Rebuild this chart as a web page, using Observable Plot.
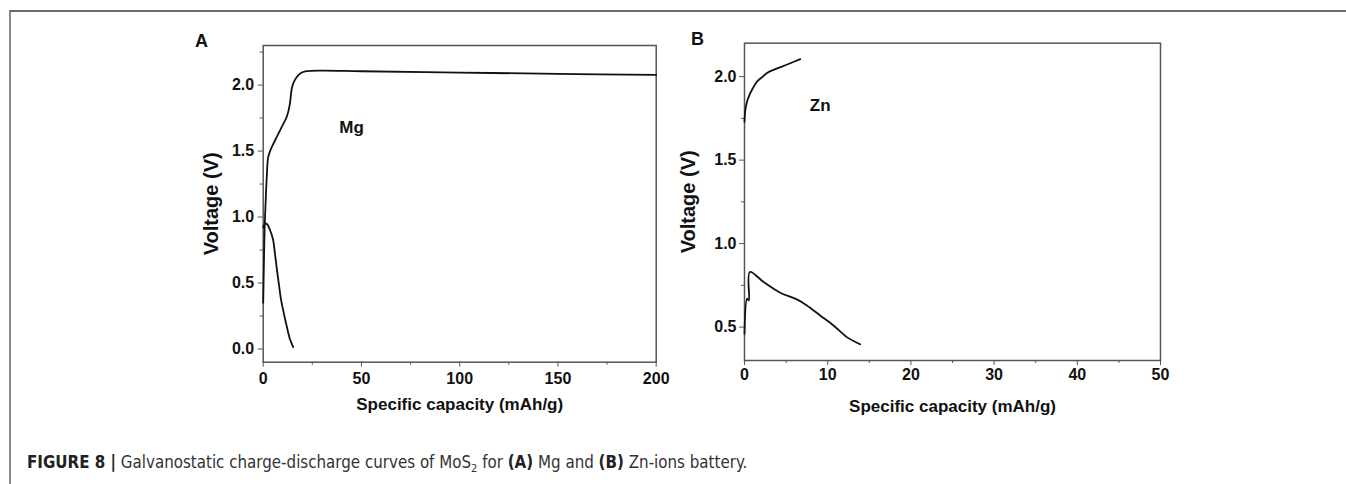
<!DOCTYPE html>
<html>
<head>
<meta charset="utf-8">
<script src="https://cdn.jsdelivr.net/npm/d3@7"></script>
<script src="https://cdn.jsdelivr.net/npm/@observablehq/plot@0.6"></script>
<style>
  html, body { margin: 0; padding: 0; background: #fff; }
  #root { position: relative; width: 1346px; height: 484px; overflow: hidden; font-family: "Liberation Sans", Arial, sans-serif; background: #fff; }
  #border { position: absolute; left: 9px; top: 10px; width: 1340px; height: 480px; border-top: 2px solid #6a6a6a; border-left: 2px solid #8a8a8a; box-sizing: border-box; }
  .panel { position: absolute; top: 0; }
  .panel svg { background: transparent !important; overflow: visible; }
  .panel svg text { font-size: 16px; font-weight: bold; }
  .panel svg g[aria-label="x-axis label"] text { font-size: 17px; }
  .panel svg g[aria-label="y-axis label"] text { font-size: 20px; }
  .panel svg g[aria-label="text"] text { font-size: 17px; }
  .plabel { position: absolute; font-weight: bold; font-size: 18px; color: #111; }
  #caption { position: absolute; left: 27px; top: 452px; font-family: "Liberation Sans Narrow", "DejaVu Sans Condensed", sans-serif; font-size: 16.8px; color: #333; white-space: nowrap; }
  #caption b { color: #222; }
</style>
</head>
<body>
<div id="root">
  <div id="border"></div>
  <div id="panelA" class="panel" style="left:180px"></div>
  <div id="panelB" class="panel" style="left:670px"></div>
  <div class="plabel" style="left:195px; top:31px">A</div>
  <div class="plabel" style="left:691px; top:29px">B</div>
  <div id="caption"><b>FIGURE 8 |</b> Galvanostatic charge-discharge curves of MoS<sub style="font-size:11px">2</sub> for <b>(A)</b> Mg and <b>(B)</b> Zn-ions battery.</div>
</div>
<script>
// ---- Panel A: Mg ----
const mgChargeCap = [0, 0.3, 0.7, 1.2, 1.8, 2.5, 3.5, 6, 9, 12, 13.5, 14.5, 15.5, 17, 19, 22, 30, 50, 100, 150, 200];
const mgChargeV   = [0.35, 0.6, 0.9, 1.1, 1.3, 1.45, 1.5, 1.58, 1.67, 1.76, 1.85, 1.97, 2.02, 2.06, 2.09, 2.105, 2.11, 2.105, 2.095, 2.085, 2.078];
const mgDischargeCap = [0, 0.8, 2, 3.5, 5, 6, 7, 8, 9, 10.5, 12, 13.5, 15.3];
const mgDischargeV   = [0.92, 0.95, 0.945, 0.9, 0.83, 0.72, 0.6, 0.49, 0.38, 0.27, 0.17, 0.08, 0.015];
const mgXTicks = [0, 50, 100, 150, 200];
const mgXMinor = [25, 75, 125, 175];
const mgYTicks = [0.0, 0.5, 1.0, 1.5, 2.0];
const mgYMinor = [0.25, 0.75, 1.25, 1.75, 2.25];
const mgLabel = [{cap: 45, v: 1.68, text: "Mg"}];

// ---- Panel B: Zn ----
const znChargeCap = [0, 0.1, 0.3, 0.6, 1.0, 1.5, 2.2, 2.8, 3.5, 4.5, 5.5, 6.7];
const znChargeV   = [1.73, 1.8, 1.85, 1.89, 1.93, 1.97, 2.0, 2.025, 2.04, 2.06, 2.08, 2.105];
const znDischargeCap = [0, 0.32, 0.52, 0.64, 2.3, 4.3, 6.3, 7.5, 9.1, 10.7, 12.3, 13.9];
const znDischargeV   = [0.46, 0.67, 0.66, 0.83, 0.77, 0.706, 0.666, 0.63, 0.57, 0.51, 0.44, 0.397];
const znXTicks = [0, 10, 20, 30, 40, 50];
const znXMinor = [5, 15, 25, 35, 45];
const znYTicks = [0.5, 1.0, 1.5, 2.0];
const znYMinor = [0.75, 1.25, 1.75];
const znLabel = [{cap: 9.1, v: 1.825, text: "Zn"}];

const toRows = (xs, ys) => xs.map((x, i) => ({cap: x, v: ys[i]}));
const fmt = d3.format(".1f");
const axisColor = "#555";

function panel({width, height, margins, xDomain, yDomain, xTicks, xMinor, yTicks, yMinor, yFmt, curves, label, xPad, yPad, xLabelOffset, yLabelOffset}) {
  return Plot.plot({
    width, height,
    marginLeft: margins[0], marginRight: margins[1], marginTop: margins[2], marginBottom: margins[3],
    style: {fontFamily: "'Liberation Sans', Arial, sans-serif", fontSize: "16px", color: "#111", background: "transparent"},
    x: {domain: xDomain},
    y: {domain: yDomain},
    marks: [
      Plot.frame({stroke: axisColor, strokeWidth: 1.5}),
      Plot.axisX({ticks: xTicks, tickSize: 5, tickPadding: xPad, stroke: axisColor, fill: "#111",
                  label: "Specific capacity (mAh/g)", labelAnchor: "center", labelArrow: "none", labelOffset: xLabelOffset}),
      Plot.axisX({ticks: xMinor, tickSize: 3, stroke: axisColor, text: null, label: null}),
      Plot.axisY({ticks: yTicks, tickSize: 5, tickPadding: yPad, stroke: axisColor, fill: "#111", tickFormat: yFmt,
                  label: "Voltage (V)", labelAnchor: "center", labelArrow: "none", labelOffset: yLabelOffset}),
      Plot.axisY({ticks: yMinor, tickSize: 3, stroke: axisColor, text: null, label: null}),
      ...curves.map(c => Plot.line(c, {x: "cap", y: "v", stroke: "#111", strokeWidth: 1.8, curve: "catmull-rom"})),
      Plot.text(label, {x: "cap", y: "v", text: "text", fill: "#111"})
    ]
  });
}

const plotA = panel({
  width: 500, height: 420, margins: [82.7, 24.3, 45, 58.3],
  xDomain: [0, 200], yDomain: [-0.1, 2.3],
  xTicks: mgXTicks, xMinor: mgXMinor, yTicks: mgYTicks, yMinor: mgYMinor, yFmt: fmt,
  curves: [toRows(mgChargeCap, mgChargeV), toRows(mgDischargeCap, mgDischargeV)],
  label: mgLabel, xPad: 5, yPad: 4, xLabelOffset: 48, yLabelOffset: 59
});
document.getElementById("panelA").appendChild(plotA);

const plotB = panel({
  width: 520, height: 420, margins: [74, 30, 42.7, 60],
  xDomain: [0, 50], yDomain: [0.3, 2.2],
  xTicks: znXTicks, xMinor: znXMinor, yTicks: znYTicks, yMinor: znYMinor, yFmt: fmt,
  curves: [toRows(znChargeCap, znChargeV), toRows(znDischargeCap, znDischargeV)],
  label: znLabel, xPad: 3, yPad: 3, xLabelOffset: 51, yLabelOffset: 64
});
document.getElementById("panelB").appendChild(plotB);
</script>
</body>
</html>
